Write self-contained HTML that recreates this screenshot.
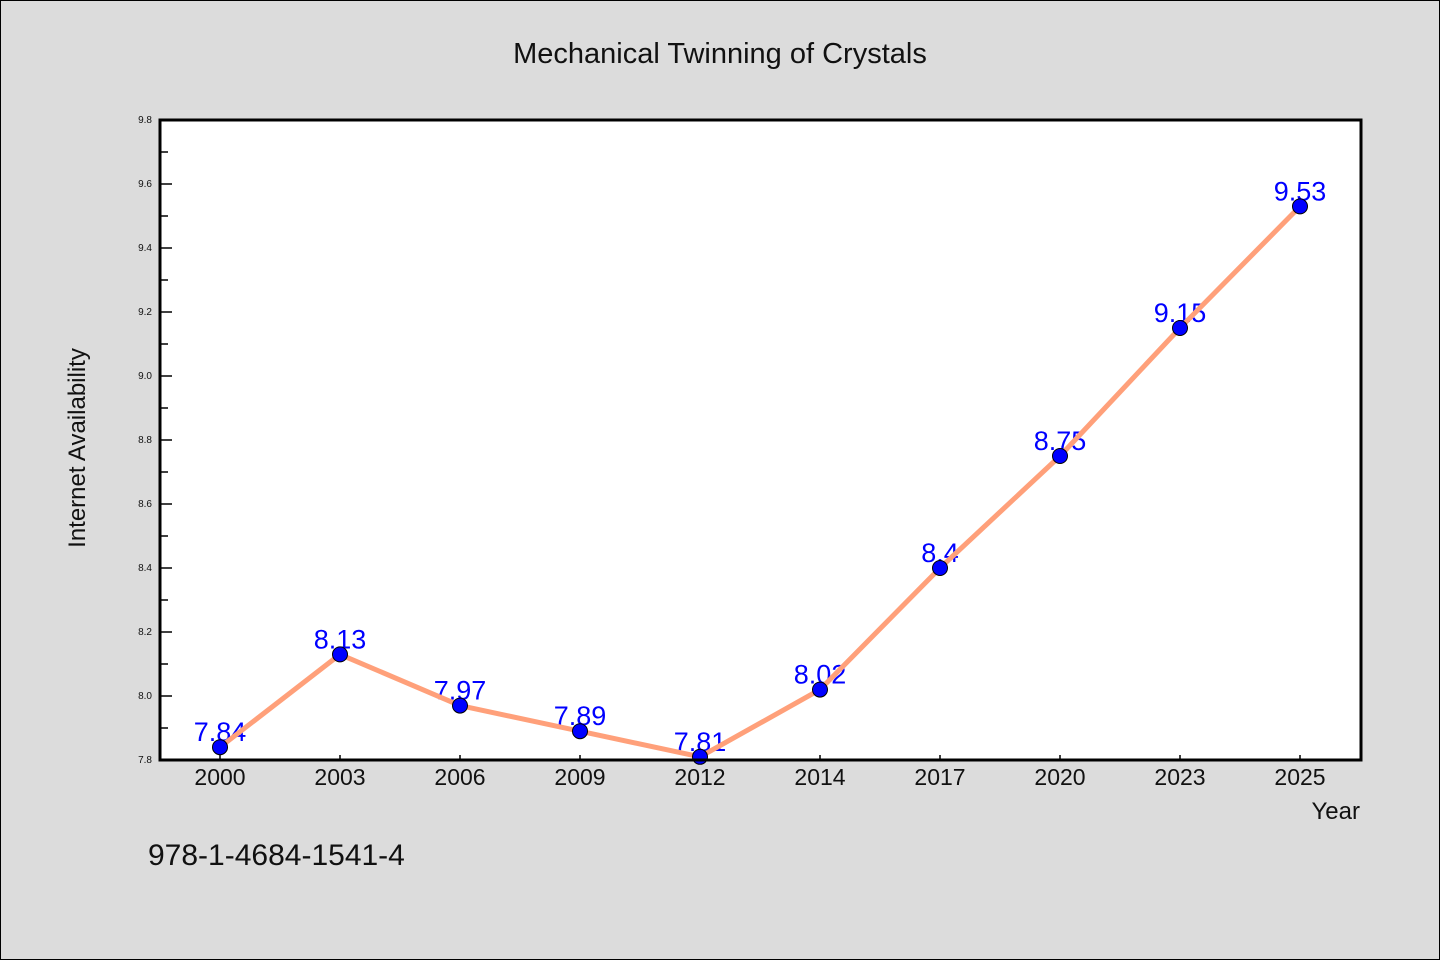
<!DOCTYPE html>
<html><head><meta charset="utf-8"><style>
body{margin:0;background:#dcdcdc}
svg{display:block;font-family:"WenQuanYi Zen Hei","Liberation Sans",sans-serif}
</style></head><body>
<svg id="c" width="1440" height="960">
<rect x="0.5" y="0.5" width="1439" height="959" fill="#dcdcdc" stroke="#000"/>
<text x="720" y="63" text-anchor="middle" font-size="29" fill="#111">Mechanical Twinning of Crystals</text>
<rect x="160" y="120" width="1201" height="640" fill="#fff"/>
<g id="g"></g>
<rect x="160" y="120" width="1201" height="640" fill="none" stroke="#000" stroke-width="3"/>
<text x="85" y="448" text-anchor="middle" font-size="24" fill="#111" transform="rotate(-90 85 448)">Internet Availability</text>
<text x="1360" y="819" text-anchor="end" font-size="24" fill="#111">Year</text>
<text x="148" y="865" font-size="30" fill="#111">978-1-4684-1541-4</text>
</svg>
<script>
const categories=["2000","2003","2006","2009","2012","2014","2017","2020","2023","2025"];
const values=[7.84,8.13,7.97,7.89,7.81,8.02,8.4,8.75,9.15,9.53];
const yTicks=[7.8,8.0,8.2,8.4,8.6,8.8,9.0,9.2,9.4,9.6,9.8];
const NS="http://www.w3.org/2000/svg";
const g=document.getElementById('g');
const x=i=>220+i*120;
const y=v=>760-(v-7.8)/2.0*640;
function mk(t,a,txt){const e=document.createElementNS(NS,t);for(const k in a)e.setAttribute(k,a[k]);if(txt!=null)e.textContent=txt;g.appendChild(e);return e;}
yTicks.forEach((v,i)=>{
 let e=mk('line',{x1:160,x2:172,y1:y(v),y2:y(v),stroke:'#000','stroke-width':1.5});
 
 
 let t=mk('text',{x:152,y:y(v)+3,'text-anchor':'end','font-size':10,fill:'#111'},v.toFixed(1));
 
 
 if(i<yTicks.length-1){
  let m=mk('line',{x1:160,x2:168,y1:y(v+0.1),y2:y(v+0.1),stroke:'#000','stroke-width':1.5});
  
  
 }
});
categories.forEach((c,i)=>{
 let e=mk('line',{x1:x(i),x2:x(i),y1:760,y2:755,stroke:'#000','stroke-width':1.5});
 
 
 let t=mk('text',{x:x(i),y:785,'text-anchor':'middle','font-size':23,fill:'#111'},c);
 
 
});
values.forEach((v,i)=>{
 let t=mk('text',{x:x(i),y:y(v)-6,'text-anchor':'middle','font-size':27,fill:'#0000ff'},String(v));
 
 
});
let p=mk('polyline',{points:values.map((v,i)=>x(i)+','+y(v)).join(' '),fill:'none',stroke:'#ffa07a','stroke-width':5,'stroke-linejoin':'round'});


values.forEach((v,i)=>{
 let c=mk('circle',{cx:x(i),cy:y(v),r:7.5,fill:'#0000ff',stroke:'#000','stroke-width':1});
 
 
});
</script>
</body></html>
